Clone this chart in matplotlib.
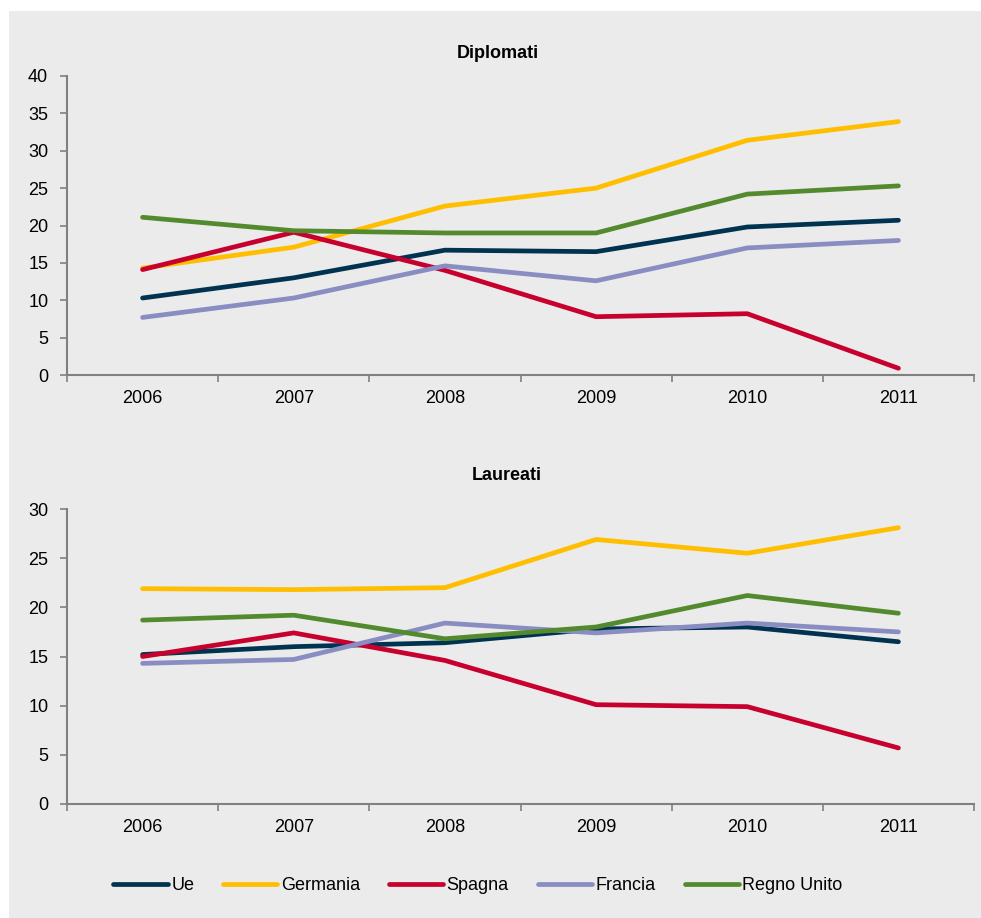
import matplotlib.pyplot as plt
import numpy as np
from matplotlib.patches import Rectangle

plt.rcParams['font.family'] = ['Liberation Sans', 'DejaVu Sans']

years = ["2006", "2007", "2008", "2009", "2010", "2011"]
series = ["Ue", "Germania", "Spagna", "Francia", "Regno Unito"]
colors = ["#003350", "#FFBE00", "#C8002D", "#8A8DC2", "#548A2E"]

# Diplomati
dip_ue = [10.3, 13.0, 16.7, 16.5, 19.8, 20.7]
dip_germania = [14.3, 17.1, 22.6, 25.0, 31.4, 33.9]
dip_spagna = [14.1, 19.1, 14.0, 7.8, 8.2, 0.9]
dip_francia = [7.7, 10.3, 14.6, 12.6, 17.0, 18.0]
dip_regno_unito = [21.1, 19.3, 19.0, 19.0, 24.2, 25.3]

# Laureati
lau_ue = [15.2, 16.0, 16.4, 17.8, 18.0, 16.5]
lau_germania = [21.9, 21.8, 22.0, 26.9, 25.5, 28.1]
lau_spagna = [15.0, 17.4, 14.6, 10.1, 9.9, 5.7]
lau_francia = [14.3, 14.7, 18.4, 17.4, 18.4, 17.5]
lau_regno_unito = [18.7, 19.2, 16.8, 18.0, 21.2, 19.4]

dip = [dip_ue, dip_germania, dip_spagna, dip_francia, dip_regno_unito]
lau = [lau_ue, lau_germania, lau_spagna, lau_francia, lau_regno_unito]

bg = "#EAEBEA"
axis_col = "#808080"
fs = 13

fig = plt.figure(figsize=(9.81, 9.18), dpi=100)
fig.patches.append(Rectangle((9 / 981, 0), 1 - 9 / 981, 1 - 11 / 918,
                             transform=fig.transFigure, facecolor=bg,
                             edgecolor="none", zorder=-10))

ax1 = fig.add_axes([67 / 981, 1 - 375 / 918, 907 / 981, 299 / 918])
ax2 = fig.add_axes([67 / 981, 1 - 804 / 918, 907 / 981, 295 / 918])


def style(ax, data, ymax, title, title_y, title_x):
    x = np.arange(len(years))
    for vals, name, c in zip(data, series, colors):
        ax.plot(x, vals, color=c, lw=3.4, label=name, solid_capstyle="round",
                solid_joinstyle="round")
    ax.set_facecolor("none")
    ax.set_xlim(-0.5, len(years) - 0.5)
    ax.set_ylim(0, ymax)
    ax.set_yticks(np.arange(0, ymax + 1, 5))
    ax.set_xticks(x)
    ax.set_xticklabels(years)
    ax.set_xticks(np.arange(-0.5, len(years)), minor=True)
    ax.tick_params(axis="x", which="major", length=0, pad=11, labelsize=fs,
                   colors="black")
    ax.tick_params(axis="x", which="minor", length=5, width=1.2,
                   color=axis_col, direction="out")
    ax.tick_params(axis="y", length=5, width=1.2, color=axis_col, pad=8.5,
                   labelsize=fs)
    for s in ["top", "right"]:
        ax.spines[s].set_visible(False)
    for s in ["left", "bottom"]:
        ax.spines[s].set_color(axis_col)
        ax.spines[s].set_linewidth(1.5)
    fig.text(title_x / 981, 1 - title_y / 918, title, ha="center",
             va="center", fontsize=fs, fontweight="bold")


style(ax1, dip, 40, "Diplomati", 53, 498)
style(ax2, lau, 30, "Laureati", 475, 507)

handles, labels = ax1.get_legend_handles_labels()
fig.legend(handles, labels, loc="center", bbox_to_anchor=(478 / 981, 1 - 886 / 918),
           ncol=5, frameon=False, fontsize=fs, handlelength=3.0,
           handletextpad=0.2, columnspacing=1.6)

fig.savefig("out.png", dpi=100)
